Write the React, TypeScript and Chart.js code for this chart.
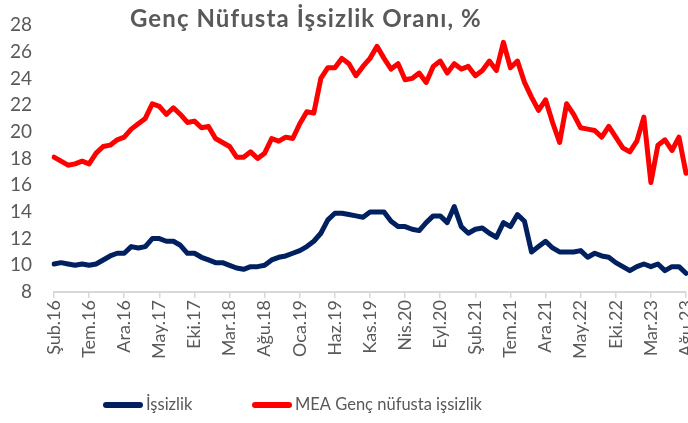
import React, { useEffect, useRef } from "react";
import { Chart, registerables } from "chart.js";

Chart.register(...registerables);

const TITLE = "Genç Nüfusta İşsizlik Oranı, %";

const CATEGORIES = [
  "Şub.16", "Mar.16", "Nis.16", "May.16", "Haz.16", "Tem.16", "Ağu.16", "Eyl.16", "Eki.16", "Kas.16", "Ara.16",
  "Oca.17", "Şub.17", "Mar.17", "Nis.17", "May.17", "Haz.17", "Tem.17", "Ağu.17", "Eyl.17", "Eki.17", "Kas.17", "Ara.17",
  "Oca.18", "Şub.18", "Mar.18", "Nis.18", "May.18", "Haz.18", "Tem.18", "Ağu.18", "Eyl.18", "Eki.18", "Kas.18", "Ara.18",
  "Oca.19", "Şub.19", "Mar.19", "Nis.19", "May.19", "Haz.19", "Tem.19", "Ağu.19", "Eyl.19", "Eki.19", "Kas.19", "Ara.19",
  "Oca.20", "Şub.20", "Mar.20", "Nis.20", "May.20", "Haz.20", "Tem.20", "Ağu.20", "Eyl.20", "Eki.20", "Kas.20", "Ara.20",
  "Oca.21", "Şub.21", "Mar.21", "Nis.21", "May.21", "Haz.21", "Tem.21", "Ağu.21", "Eyl.21", "Eki.21", "Kas.21", "Ara.21",
  "Oca.22", "Şub.22", "Mar.22", "Nis.22", "May.22", "Haz.22", "Tem.22", "Ağu.22", "Eyl.22", "Eki.22", "Kas.22", "Ara.22",
  "Oca.23", "Şub.23", "Mar.23", "Nis.23", "May.23", "Haz.23", "Tem.23", "Ağu.23",
];

const SERIES_NAMES = ["İşsizlik", "MEA Genç nüfusta işsizlik"];

const ISSIZLIK = [
  10.1, 10.2, 10.1, 10.0, 10.1, 10.0, 10.1, 10.4, 10.7, 10.9, 10.9,
  11.4, 11.3, 11.4, 12.0, 12.0, 11.8, 11.8, 11.5, 10.9, 10.9, 10.6, 10.4,
  10.2, 10.2, 10.0, 9.8, 9.7, 9.9, 9.9, 10.0, 10.4, 10.6, 10.7, 10.9,
  11.1, 11.4, 11.8, 12.4, 13.4, 13.9, 13.9, 13.8, 13.7, 13.6, 14.0, 14.0,
  14.0, 13.3, 12.9, 12.9, 12.7, 12.6, 13.2, 13.7, 13.7, 13.2, 14.4, 12.9,
  12.4, 12.7, 12.8, 12.4, 12.1, 13.2, 12.9, 13.8, 13.3, 11.0, 11.4, 11.8,
  11.3, 11.0, 11.0, 11.0, 11.1, 10.6, 10.9, 10.7, 10.6, 10.2, 9.9, 9.6,
  9.9, 10.1, 9.9, 10.1, 9.6, 9.9, 9.9, 9.4,
];

const MEA_GENC = [
  18.1, 17.8, 17.5, 17.6, 17.8, 17.6, 18.4, 18.9, 19.0, 19.4, 19.6,
  20.2, 20.6, 21.0, 22.1, 21.9, 21.3, 21.8, 21.3, 20.7, 20.8, 20.3, 20.4,
  19.5, 19.2, 18.9, 18.1, 18.1, 18.5, 18.0, 18.4, 19.5, 19.3, 19.6, 19.5,
  20.6, 21.5, 21.4, 24.0, 24.8, 24.8, 25.5, 25.1, 24.2, 24.9, 25.5, 26.4,
  25.5, 24.7, 25.1, 23.9, 24.0, 24.4, 23.7, 24.9, 25.3, 24.4, 25.1, 24.7,
  24.9, 24.2, 24.6, 25.3, 24.6, 26.7, 24.8, 25.3, 23.7, 22.6, 21.6, 22.4,
  20.7, 19.2, 22.1, 21.3, 20.3, 20.2, 20.1, 19.6, 20.4, 19.6, 18.8, 18.5,
  19.3, 21.1, 16.2, 19.0, 19.4, 18.6, 19.6, 16.9,
];

const Y_MIN = 8;
const Y_MAX = 28;
const Y_STEP = 2;
const LABEL_EVERY = 5;

const COLORS = ["#002060", "#ff0000"];
const TEXT = "#595959";
const AXIS = "#d9d9d9";

const W = 688;
const H = 423;

const TITLE_LEFT = 130;
const TITLE_WIDTH = 352;

const overlayPlugin = {
  id: "overlay",
  afterDraw(chart: any) {
    const ctx = chart.ctx;
    ctx.save();
    // title, spread to the reference's width
    ctx.fillStyle = TEXT;
    ctx.font = "bold 24px Lato";
    ctx.textAlign = "left";
    ctx.textBaseline = "alphabetic";
    try {
      (ctx as any).letterSpacing = "0px";
    } catch (e) {}
    const base = ctx.measureText(TITLE).width;
    const n = Array.from(TITLE).length;
    const sp = Math.max(0, (TITLE_WIDTH - base) / n);
    try {
      (ctx as any).letterSpacing = sp.toFixed(2) + "px";
    } catch (e) {}
    ctx.fillText(TITLE, TITLE_LEFT, 27);
    try {
      (ctx as any).letterSpacing = "0px";
    } catch (e) {}
    // legend
    const items = [
      { x: 103, color: COLORS[0], text: SERIES_NAMES[0] },
      { x: 252, color: COLORS[1], text: SERIES_NAMES[1] },
    ];
    const y = 405;
    ctx.font = "16.5px Lato";
    ctx.textAlign = "left";
    ctx.textBaseline = "middle";
    for (const it of items) {
      ctx.strokeStyle = it.color;
      ctx.lineWidth = 6;
      ctx.lineCap = "round";
      ctx.beginPath();
      ctx.moveTo(it.x + 3, y);
      ctx.lineTo(it.x + 37, y);
      ctx.stroke();
      ctx.fillStyle = TEXT;
      ctx.fillText(it.text, it.x + 43, y);
    }
    ctx.restore();
  },
};

export default function App() {
  const ref = useRef<HTMLCanvasElement | null>(null);

  useEffect(() => {
    document.body.style.margin = "0";
    let chart: any = null;
    let cancelled = false;
    const make = () => {
      if (cancelled || !ref.current) return;
      chart = new Chart(ref.current, {
        type: "line",
        data: {
          labels: CATEGORIES,
          datasets: [
            {
              label: SERIES_NAMES[0],
              data: ISSIZLIK,
              borderColor: COLORS[0],
              backgroundColor: COLORS[0],
              borderWidth: 5,
              pointRadius: 0,
              tension: 0,
              borderJoinStyle: "round",
              borderCapStyle: "round",
            },
            {
              label: SERIES_NAMES[1],
              data: MEA_GENC,
              borderColor: COLORS[1],
              backgroundColor: COLORS[1],
              borderWidth: 5,
              pointRadius: 0,
              tension: 0,
              borderJoinStyle: "round",
              borderCapStyle: "round",
            },
          ],
        },
        options: {
          responsive: false,
          animation: false,
          layout: { padding: { top: 25, left: 0, right: 0, bottom: 0 } },
          plugins: {
            legend: { display: false },
            title: { display: false },
            tooltip: { enabled: false },
          },
          scales: {
            x: {
              type: "category",
              offset: false,
              grid: {
                display: true,
                drawOnChartArea: false,
                drawTicks: true,
                tickLength: 6,
                lineWidth: 1.5,
                color: (c: any) => (c.index % LABEL_EVERY === 0 ? AXIS : "rgba(0,0,0,0)"),
              },
              border: { display: true, color: AXIS, width: 2 },
              ticks: {
                autoSkip: false,
                maxRotation: 90,
                minRotation: 90,
                padding: 2,
                color: TEXT,
                font: { family: "Lato", size: 18 },
                callback: (_v: any, i: number) => (i % LABEL_EVERY === 0 ? CATEGORIES[i] : ""),
              },
              afterFit: (s: any) => {
                s.height = H - 292;
                s.paddingLeft = 0;
                s.paddingRight = 2;
              },
            },
            y: {
              min: Y_MIN,
              max: Y_MAX,
              grid: { display: false, drawTicks: false },
              border: { display: false },
              ticks: {
                stepSize: Y_STEP,
                padding: 22,
                color: TEXT,
                font: { family: "Lato", size: 19 },
              },
              afterFit: (s: any) => {
                s.width = 54;
                s.paddingTop = 0;
                s.paddingBottom = 0;
              },
            },
          },
        },
        plugins: [overlayPlugin],
      } as any);
    };
    const fonts: any = (document as any).fonts;
    if (fonts && fonts.load) {
      Promise.all([fonts.load("20px Lato"), fonts.load("bold 20px Lato")]).then(make, make);
    } else {
      make();
    }
    return () => {
      cancelled = true;
      if (chart) chart.destroy();
    };
  }, []);

  return (
    <div style={{ width: W, height: H }}>
      <canvas ref={ref} width={W} height={H} style={{ display: "block" }} />
    </div>
  );
}
